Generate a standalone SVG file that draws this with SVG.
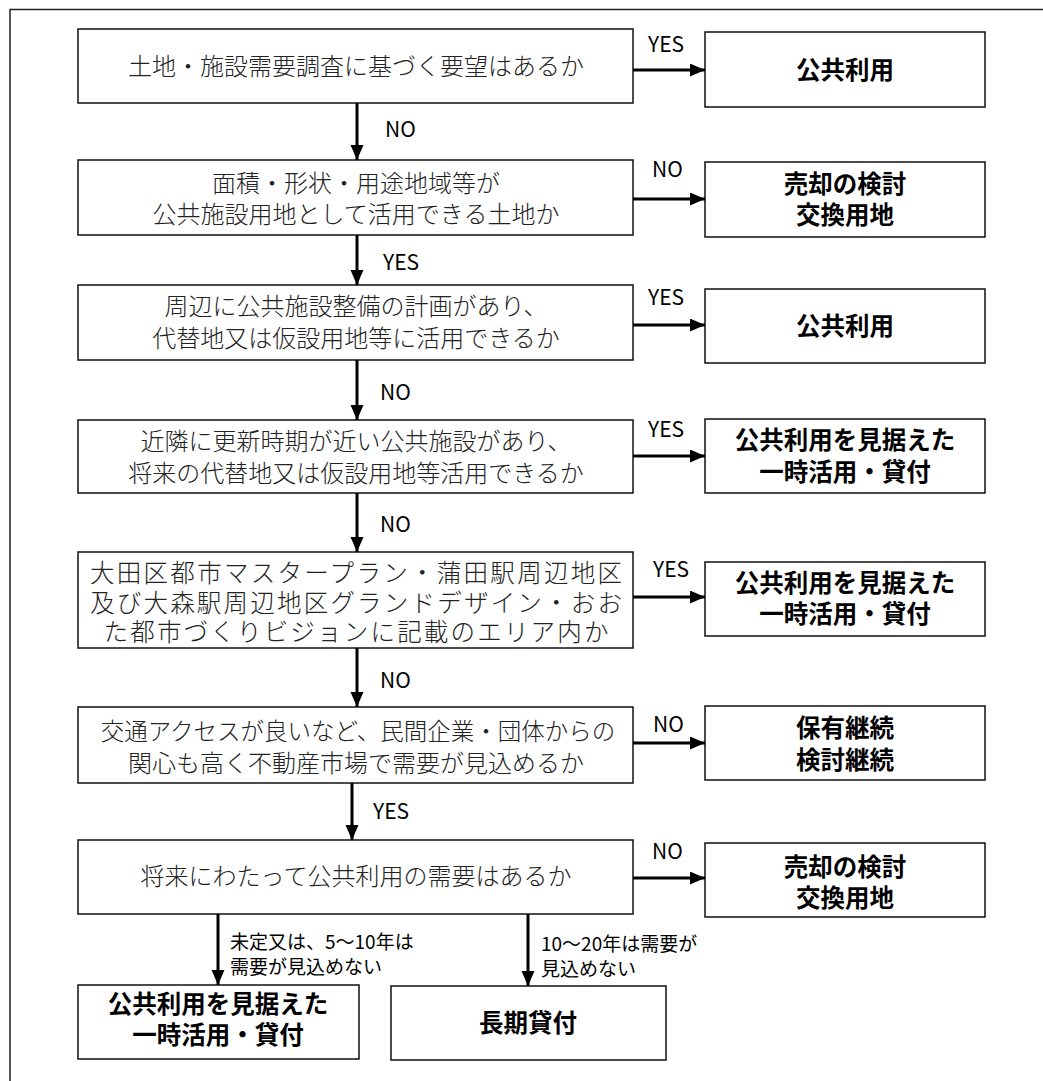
<svg xmlns="http://www.w3.org/2000/svg" width="1043" height="1081" viewBox="0 0 1043 1081">
<style>
.box{fill:#fff;stroke:#111;stroke-width:1.5}
.q{font-family:"Noto Sans CJK JP","Noto Sans CJK SC",sans-serif;font-size:24px;fill:#222;text-anchor:middle;font-weight:300}
.r{font-family:"Noto Sans CJK JP","Noto Sans CJK SC",sans-serif;font-size:24.5px;fill:#000;text-anchor:middle;font-weight:bold}
.lb{font-family:"Noto Sans CJK JP","Noto Sans CJK SC",sans-serif;font-size:21px;fill:#000}
.sl{font-family:"Noto Sans CJK JP","Noto Sans CJK SC",sans-serif;font-size:19px;fill:#000}
.ar{stroke:#000;stroke-width:3;fill:none;marker-end:url(#ah)}
.frame{stroke:#222;stroke-width:1.5;fill:none}
</style>
<defs>
<marker id="ah" markerUnits="userSpaceOnUse" markerWidth="16" markerHeight="14" refX="15" refY="6.5" orient="auto">
<path d="M0,0 L15,6.5 L0,13 z" fill="#000"/>
</marker>
</defs>
<rect width="1043" height="1081" fill="#fff"/>
<path class="frame" d="M10,1081 V9.5 H1043"/>

<g id="q1"><rect class="box" x="78" y="29" width="555" height="74"/><text class="q" x="356" y="75">土地・施設需要調査に基づく要望はあるか</text></g>
<g id="q2"><rect class="box" x="78" y="160" width="555" height="75"/><text class="q" x="356" y="192">面積・形状・用途地域等が</text><text class="q" x="356" y="223">公共施設用地として活用できる土地か</text></g>
<g id="q3"><rect class="box" x="78" y="285" width="555" height="75"/><text class="q" x="356" y="315">周辺に公共施設整備の計画があり、</text><text class="q" x="356" y="347">代替地又は仮設用地等に活用できるか</text></g>
<g id="q4"><rect class="box" x="78" y="420" width="555" height="73"/><text class="q" x="356" y="450">近隣に更新時期が近い公共施設があり、</text><text class="q" x="356" y="482">将来の代替地又は仮設用地等活用できるか</text></g>
<g id="q5"><rect class="box" x="78" y="552" width="555" height="96"/><text class="q" x="356" y="582" style="font-size:24.5px" textLength="532" lengthAdjust="spacing">大田区都市マスタープラン・蒲田駅周辺地区</text><text class="q" x="356" y="612" style="font-size:24.5px" textLength="532" lengthAdjust="spacing">及び大森駅周辺地区グランドデザイン・おお</text><text class="q" x="356" y="641" style="font-size:24.5px" textLength="505" lengthAdjust="spacing">た都市づくりビジョンに記載のエリア内か</text></g>
<g id="q6"><rect class="box" x="78" y="707" width="555" height="76"/><text class="q" x="358" y="740" style="font-size:23.5px">交通アクセスが良いなど、民間企業・団体からの</text><text class="q" x="356" y="772">関心も高く不動産市場で需要が見込めるか</text></g>
<g id="q7"><rect class="box" x="78" y="840" width="555" height="74"/><text class="q" x="356" y="885">将来にわたって公共利用の需要はあるか</text></g>

<g id="r1"><rect class="box" x="705" y="32" width="280" height="75"/><text class="r" x="845" y="79">公共利用</text></g>
<g id="r2"><rect class="box" x="705" y="162" width="280" height="75"/><text class="r" x="845" y="193">売却の検討</text><text class="r" x="845" y="224">交換用地</text></g>
<g id="r3"><rect class="box" x="705" y="289" width="280" height="74"/><text class="r" x="845" y="335">公共利用</text></g>
<g id="r4"><rect class="box" x="705" y="419" width="280" height="74"/><text class="r" x="845" y="449">公共利用を見据えた</text><text class="r" x="845" y="481">一時活用・貸付</text></g>
<g id="r5"><rect class="box" x="705" y="562" width="280" height="74"/><text class="r" x="845" y="592">公共利用を見据えた</text><text class="r" x="845" y="623">一時活用・貸付</text></g>
<g id="r6"><rect class="box" x="705" y="706" width="280" height="74"/><text class="r" x="845" y="737">保有継続</text><text class="r" x="845" y="769">検討継続</text></g>
<g id="r7"><rect class="box" x="705" y="843" width="280" height="74"/><text class="r" x="845" y="876">売却の検討</text><text class="r" x="845" y="907">交換用地</text></g>
<g id="b1"><rect class="box" x="78" y="985" width="281" height="74"/><text class="r" x="218" y="1013">公共利用を見据えた</text><text class="r" x="218" y="1044">一時活用・貸付</text></g>
<g id="b2"><rect class="box" x="391" y="986" width="275" height="74"/><text class="r" x="528" y="1032">長期貸付</text></g>

<g id="connectors">
<line class="ar" x1="357" y1="103" x2="357" y2="160"/>
<line class="ar" x1="357" y1="235" x2="357" y2="285"/>
<line class="ar" x1="357" y1="360" x2="357" y2="420"/>
<line class="ar" x1="357" y1="493" x2="357" y2="552"/>
<line class="ar" x1="357" y1="648" x2="357" y2="707"/>
<line class="ar" x1="352" y1="783" x2="352" y2="840"/>
<line class="ar" x1="218" y1="914" x2="218" y2="985"/>
<line class="ar" x1="528" y1="914" x2="528" y2="986"/>
<line class="ar" x1="633" y1="70" x2="705" y2="70"/>
<line class="ar" x1="633" y1="199" x2="705" y2="199"/>
<line class="ar" x1="633" y1="325" x2="705" y2="325"/>
<line class="ar" x1="633" y1="456" x2="705" y2="456"/>
<line class="ar" x1="633" y1="597" x2="705" y2="597"/>
<line class="ar" x1="633" y1="743" x2="705" y2="743"/>
<line class="ar" x1="633" y1="878" x2="705" y2="878"/>
<text class="lb" x="385" y="137">NO</text>
<text class="lb" x="383" y="270">YES</text>
<text class="lb" x="380" y="400">NO</text>
<text class="lb" x="380" y="532">NO</text>
<text class="lb" x="380" y="688">NO</text>
<text class="lb" x="373" y="819">YES</text>
<text class="lb" x="648" y="52">YES</text>
<text class="lb" x="652" y="177">NO</text>
<text class="lb" x="648" y="305">YES</text>
<text class="lb" x="648" y="437">YES</text>
<text class="lb" x="653" y="577">YES</text>
<text class="lb" x="653" y="732">NO</text>
<text class="lb" x="652" y="859">NO</text>
<text class="sl" x="230" y="949">未定又は、5〜10年は</text>
<text class="sl" x="230" y="974">需要が見込めない</text>
<text class="sl" x="541" y="951">10〜20年は需要が</text>
<text class="sl" x="541" y="976">見込めない</text>
</g>
</svg>
